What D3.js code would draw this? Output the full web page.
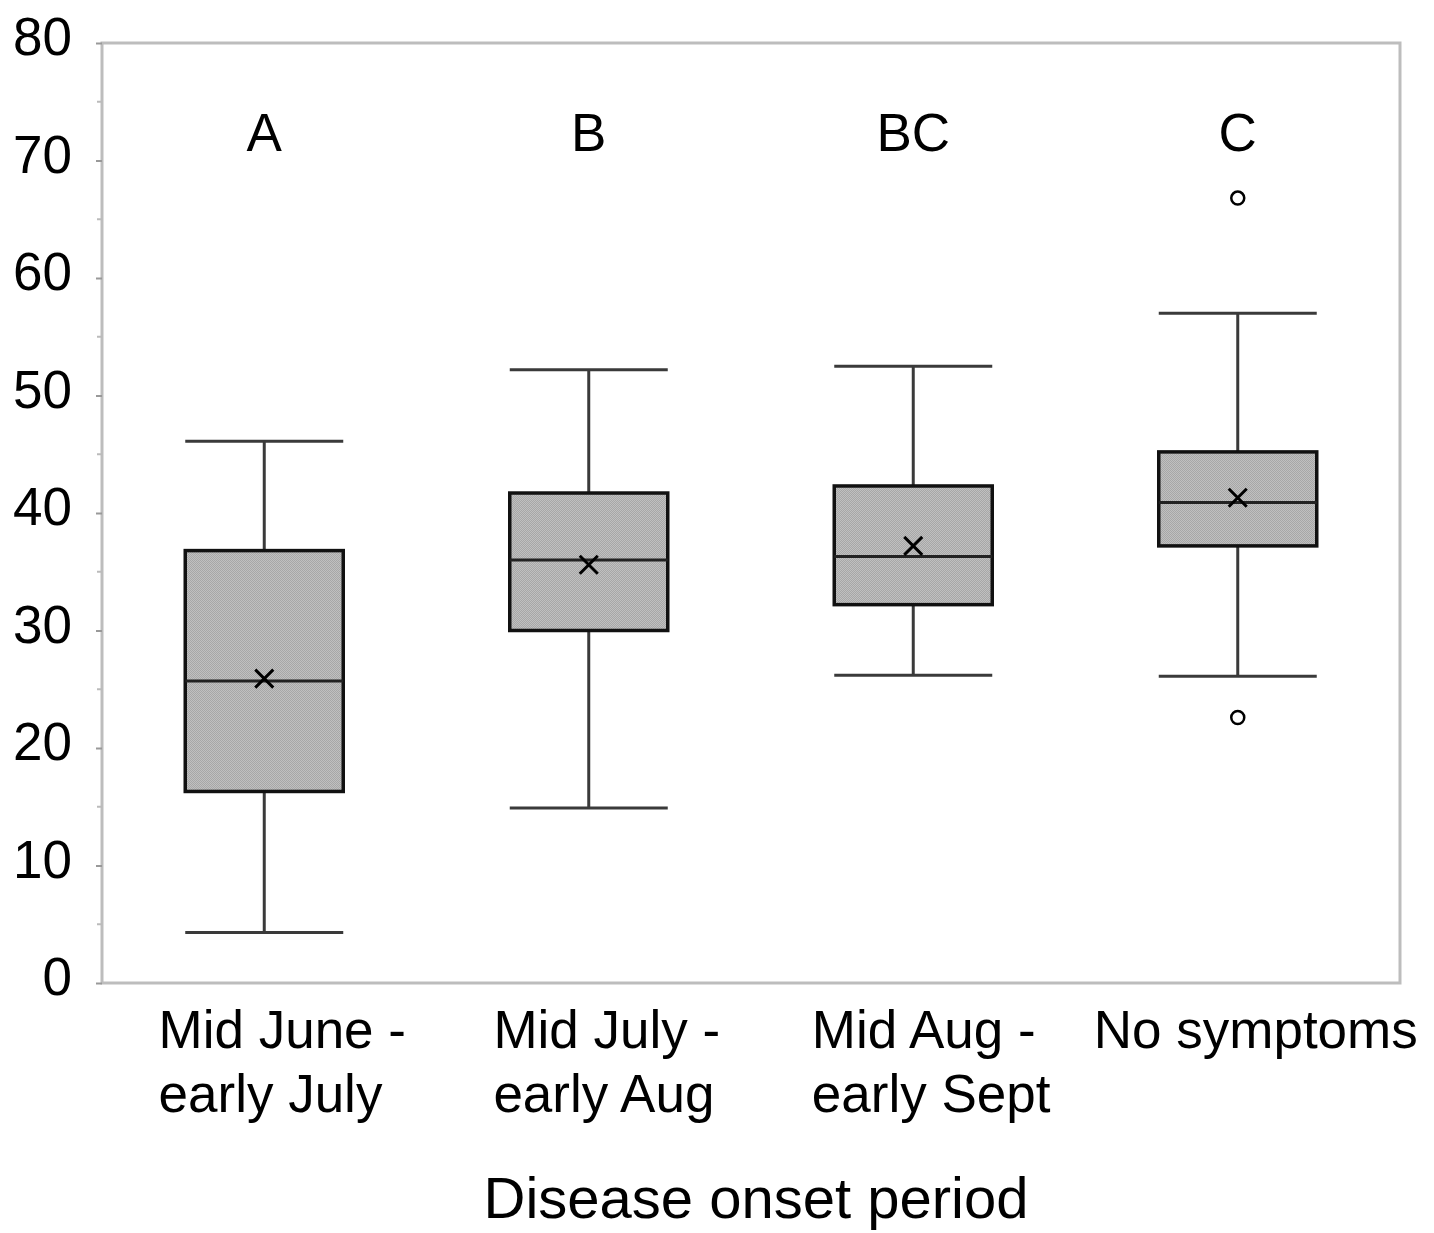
<html>
    <head>
        <title>Disease onset box plot</title>
        <style>
            body { margin: 0; background: #fff; }
            text { font-family: "Liberation Sans", Arial, Helvetica, sans-serif; fill: #000; }
        </style>
    </head>
    <body>
        <svg id="container" width="1434" height="1233"></svg>
    </body>
    <script src="https://d3js.org/d3.v7.min.js"></script>
    <script>
        // data
        let periods = ["Mid June -|early July", "Mid July -|early Aug", "Mid Aug -|early Sept", "No symptoms"]
        let groupLetters = ["A", "B", "BC", "C"]
        let whiskerLow = [4.3, 14.9, 26.2, 26.1]
        let q1 = [16.3, 30.0, 32.2, 37.2]
        let medians = [25.7, 36.0, 36.3, 40.9]
        let means = [25.9, 35.6, 37.2, 41.3]
        let q3 = [36.8, 41.7, 42.3, 45.2]
        let whiskerHigh = [46.1, 52.2, 52.5, 57.0]
        let outliers = [[], [], [], [66.8, 22.6]]
        let yTicks = [0, 10, 20, 30, 40, 50, 60, 70, 80]

        let svg = d3.select("#container")
        let plotLeft = 102, plotRight = 1400, plotTop = 43, plotBottom = 983

        let x = d3.scaleBand().domain(periods).range([plotLeft, plotRight])
        let y = d3.scaleLinear().domain([0, 80]).range([plotBottom, plotTop])
        let boxW = 158

        // checker fill like the print dither
        let pat = svg.append("defs").append("pattern")
            .attr("id", "dither").attr("width", 2).attr("height", 2)
            .attr("patternUnits", "userSpaceOnUse")
        pat.append("rect").attr("width", 2).attr("height", 2).attr("fill", "#cdcdcd")
        pat.append("rect").attr("width", 1).attr("height", 1).attr("fill", "#9a9a9a")
        pat.append("rect").attr("x", 1).attr("y", 1).attr("width", 1).attr("height", 1).attr("fill", "#9a9a9a")

        // frame
        svg.append("rect")
            .attr("x", plotLeft).attr("y", plotTop)
            .attr("width", plotRight - plotLeft).attr("height", plotBottom - plotTop)
            .attr("fill", "none").attr("stroke", "#bdbdbd").attr("stroke-width", 3)

        // y axis
        let yAxis = d3.axisLeft(y).tickValues(yTicks).tickSize(6).tickPadding(24)
        let ya = svg.append("g").attr("transform", `translate(${plotLeft},0)`).call(yAxis)
        ya.select(".domain").remove()
        ya.selectAll(".tick line").attr("stroke", "#999").attr("stroke-width", 2)
        ya.selectAll(".tick text")
            .style("font-size", "53px")
            .style("font-family", "'Liberation Sans', Arial, sans-serif")
            .attr("fill", "#000").attr("dy", "0.22em")

        // minor ticks
        svg.append("g").selectAll("line")
            .data(d3.range(5, 80, 10))
            .join("line")
            .attr("x1", plotLeft - 5).attr("x2", plotLeft)
            .attr("y1", d => y(d)).attr("y2", d => y(d))
            .attr("stroke", "#bbb").attr("stroke-width", 2)

        let boxes = svg.append("g").selectAll("g")
            .data(periods)
            .join("g")
            .attr("transform", d => `translate(${x(d) + x.bandwidth() / 2},0)`)

        let lineCol = "#3a3a3a"

        // whiskers
        boxes.append("line")
            .attr("x1", 0).attr("x2", 0)
            .attr("y1", (d, i) => y(whiskerHigh[i])).attr("y2", (d, i) => y(q3[i]))
            .attr("stroke", lineCol).attr("stroke-width", 3)
        boxes.append("line")
            .attr("x1", 0).attr("x2", 0)
            .attr("y1", (d, i) => y(q1[i])).attr("y2", (d, i) => y(whiskerLow[i]))
            .attr("stroke", lineCol).attr("stroke-width", 3)
        boxes.append("line")
            .attr("x1", -boxW / 2).attr("x2", boxW / 2)
            .attr("y1", (d, i) => y(whiskerHigh[i])).attr("y2", (d, i) => y(whiskerHigh[i]))
            .attr("stroke", lineCol).attr("stroke-width", 3)
        boxes.append("line")
            .attr("x1", -boxW / 2).attr("x2", boxW / 2)
            .attr("y1", (d, i) => y(whiskerLow[i])).attr("y2", (d, i) => y(whiskerLow[i]))
            .attr("stroke", lineCol).attr("stroke-width", 3)

        // box
        boxes.append("rect")
            .attr("x", -boxW / 2).attr("width", boxW)
            .attr("y", (d, i) => y(q3[i]))
            .attr("height", (d, i) => y(q1[i]) - y(q3[i]))
            .attr("fill", "url(#dither)")
            .attr("stroke", "#111").attr("stroke-width", 3.5)

        // median
        boxes.append("line")
            .attr("x1", -boxW / 2).attr("x2", boxW / 2)
            .attr("y1", (d, i) => y(medians[i])).attr("y2", (d, i) => y(medians[i]))
            .attr("stroke", "#222").attr("stroke-width", 3)

        // mean marker
        boxes.append("path")
            .attr("d", (d, i) => {
                let cy = y(means[i]), s = 9
                return `M${-s},${cy - s}L${s},${cy + s}M${-s},${cy + s}L${s},${cy - s}`
            })
            .attr("stroke", "#000").attr("stroke-width", 3)

        // outliers
        boxes.each(function (d, i) {
            d3.select(this).selectAll("circle")
                .data(outliers[i])
                .join("circle")
                .attr("cx", 0).attr("cy", v => y(v)).attr("r", 6.5)
                .attr("fill", "none").attr("stroke", "#000").attr("stroke-width", 2.5)
        })

        // group letters
        boxes.append("text")
            .attr("y", y(72.4))
            .attr("dy", "0.36em")
            .attr("text-anchor", "middle")
            .style("font-size", "53px")
            .text((d, i) => groupLetters[i])

        // category labels, lines left-aligned in a centred block
        boxes.each(function (d) {
            let lines = d.split("|")
            let t = d3.select(this).append("text").style("font-size", "53px")
            lines.forEach((l, k) => {
                t.append("tspan").attr("x", 0).attr("y", 1048 + k * 64).text(l)
            })
            let w = t.node().getBBox().width
            t.selectAll("tspan").attr("x", -w / 2 + 18)
        })

        // axis title
        svg.append("text")
            .attr("x", 756).attr("y", 1218)
            .attr("text-anchor", "middle")
            .style("font-size", "58px")
            .text("Disease onset period")
    </script>
</html>
